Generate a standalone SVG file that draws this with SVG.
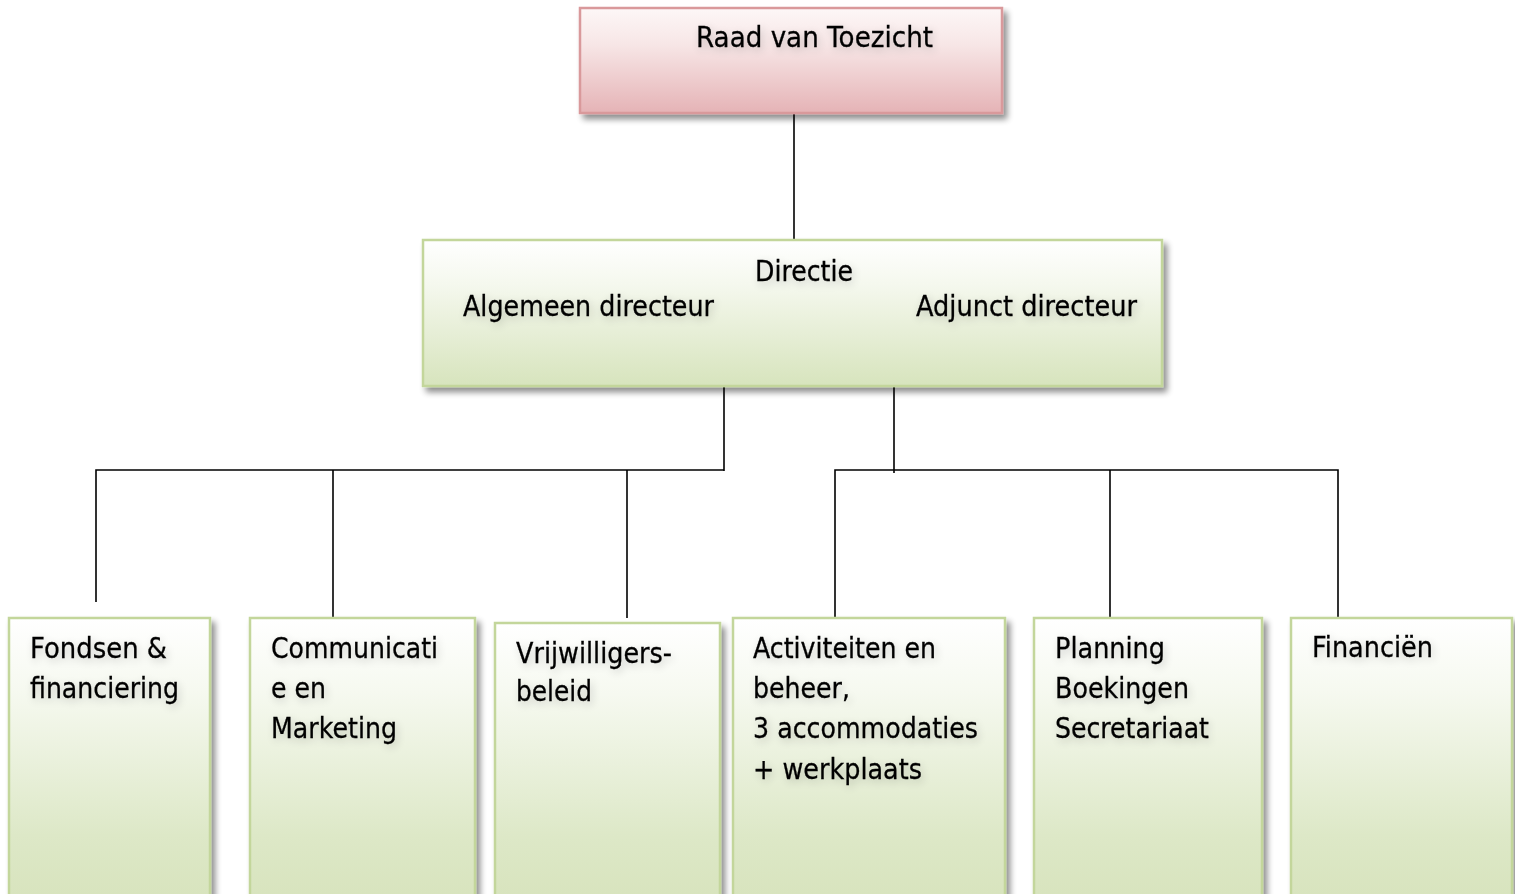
<svg xmlns="http://www.w3.org/2000/svg" width="1515" height="894" viewBox="0 0 1515 894">
<defs>
<linearGradient id="gPink" x1="0" y1="0" x2="0" y2="1">
<stop offset="0" stop-color="#fdf7f7"/>
<stop offset="0.35" stop-color="#f7e6e6"/>
<stop offset="1" stop-color="#e5b3b6"/>
</linearGradient>
<linearGradient id="gGreen" x1="0" y1="0" x2="0" y2="1">
<stop offset="0" stop-color="#ffffff"/>
<stop offset="0.3" stop-color="#f5f8ee"/>
<stop offset="1" stop-color="#d7e4bd"/>
</linearGradient>
<linearGradient id="gGreenTall" x1="0" y1="0" x2="0" y2="1">
<stop offset="0" stop-color="#ffffff"/>
<stop offset="0.25" stop-color="#f6f9f0"/>
<stop offset="0.75" stop-color="#dde8c7"/>
<stop offset="1" stop-color="#d7e3bc"/>
</linearGradient>
<filter id="shadow" x="-5%" y="-5%" width="115%" height="120%">
<feGaussianBlur in="SourceAlpha" stdDeviation="3"/>
<feOffset dx="4" dy="5" result="b"/>
<feComponentTransfer><feFuncA type="linear" slope="0.45"/></feComponentTransfer>
<feMerge><feMergeNode/><feMergeNode in="SourceGraphic"/></feMerge>
</filter>
<filter id="glow" x="-10%" y="-30%" width="120%" height="160%">
<feGaussianBlur in="SourceAlpha" stdDeviation="4"/>
<feOffset dx="2" dy="3"/>
<feComponentTransfer><feFuncA type="linear" slope="0.2"/></feComponentTransfer>
<feMerge><feMergeNode/><feMergeNode in="SourceGraphic"/></feMerge>
</filter>
</defs>
<style>
.pink{fill:url(#gPink);stroke:#d9999b;stroke-width:2.5}
.green{fill:url(#gGreen);stroke:#c3d69b;stroke-width:2.5}
.greenT{fill:url(#gGreenTall);stroke:#c3d69b;stroke-width:2.5}
.t{font-family:"DejaVu Sans","Liberation Sans",sans-serif;font-size:28px;fill:#000;stroke:#000;stroke-width:0.3}
.c{fill:none;stroke:#000;stroke-width:1.6}
</style>
<rect width="1515" height="894" fill="#ffffff"/>
<g id="connectors">
<line class="c" x1="794" y1="113" x2="794" y2="240"/>
<line class="c" x1="724" y1="386" x2="724" y2="471"/>
<line class="c" x1="894" y1="386" x2="894" y2="473"/>
<polyline class="c" points="96,602 96,470 724,470"/>
<line class="c" x1="333" y1="470" x2="333" y2="618"/>
<line class="c" x1="627" y1="470" x2="627" y2="618"/>
<polyline class="c" points="835,618 835,470 1338,470 1338,618"/>
<line class="c" x1="1110" y1="470" x2="1110" y2="618"/>
</g>
<g id="raad" filter="url(#shadow)">
<rect class="pink" x="580" y="8" width="422" height="105"/>
</g>
<g id="raad-label" filter="url(#glow)">
<text class="t" x="696" y="47" textLength="237" lengthAdjust="spacingAndGlyphs">Raad van Toezicht</text>
</g>
<g id="directie" filter="url(#shadow)">
<rect class="green" x="423" y="240" width="739" height="146"/>
</g>
<g id="directie-label" filter="url(#glow)">
<text class="t" x="755" y="281" textLength="98" lengthAdjust="spacingAndGlyphs">Directie</text>
<text class="t" x="463" y="316" textLength="251" lengthAdjust="spacingAndGlyphs">Algemeen directeur</text>
<text class="t" x="916" y="316" textLength="221" lengthAdjust="spacingAndGlyphs">Adjunct directeur</text>
</g>
<g id="fondsen">
<rect class="greenT" x="9" y="618" width="201" height="290" filter="url(#shadow)"/>
<g filter="url(#glow)">
<text class="t" x="30" y="658" textLength="137" lengthAdjust="spacingAndGlyphs">Fondsen &amp;</text>
<text class="t" x="30" y="698" textLength="149" lengthAdjust="spacingAndGlyphs">financiering</text>
</g>
</g>
<g id="communicatie">
<rect class="greenT" x="250" y="618" width="225" height="290" filter="url(#shadow)"/>
<g filter="url(#glow)">
<text class="t" x="271" y="658" textLength="167" lengthAdjust="spacingAndGlyphs">Communicati</text>
<text class="t" x="271" y="698" textLength="55" lengthAdjust="spacingAndGlyphs">e en</text>
<text class="t" x="271" y="738" textLength="126" lengthAdjust="spacingAndGlyphs">Marketing</text>
</g>
</g>
<g id="vrijwilligers">
<rect class="greenT" x="495" y="623" width="225" height="285" filter="url(#shadow)"/>
<g filter="url(#glow)">
<text class="t" x="516" y="663" textLength="156" lengthAdjust="spacingAndGlyphs">Vrijwilligers-</text>
<text class="t" x="516" y="701" textLength="76" lengthAdjust="spacingAndGlyphs">beleid</text>
</g>
</g>
<g id="activiteiten">
<rect class="greenT" x="733" y="618" width="272" height="290" filter="url(#shadow)"/>
<g filter="url(#glow)">
<text class="t" x="753" y="658" textLength="183" lengthAdjust="spacingAndGlyphs">Activiteiten en</text>
<text class="t" x="753" y="698" textLength="97" lengthAdjust="spacingAndGlyphs">beheer,</text>
<text class="t" x="753" y="738" textLength="225" lengthAdjust="spacingAndGlyphs">3 accommodaties</text>
<text class="t" x="753" y="779" textLength="169" lengthAdjust="spacingAndGlyphs">+ werkplaats</text>
</g>
</g>
<g id="planning">
<rect class="greenT" x="1034" y="618" width="228" height="290" filter="url(#shadow)"/>
<g filter="url(#glow)">
<text class="t" x="1055" y="658" textLength="110" lengthAdjust="spacingAndGlyphs">Planning</text>
<text class="t" x="1055" y="698" textLength="134" lengthAdjust="spacingAndGlyphs">Boekingen</text>
<text class="t" x="1055" y="738" textLength="154" lengthAdjust="spacingAndGlyphs">Secretariaat</text>
</g>
</g>
<g id="financien">
<rect class="greenT" x="1291" y="618" width="221" height="290" filter="url(#shadow)"/>
<g filter="url(#glow)">
<text class="t" x="1312" y="657" textLength="121" lengthAdjust="spacingAndGlyphs">Financiën</text>
</g>
</g>
</svg>
